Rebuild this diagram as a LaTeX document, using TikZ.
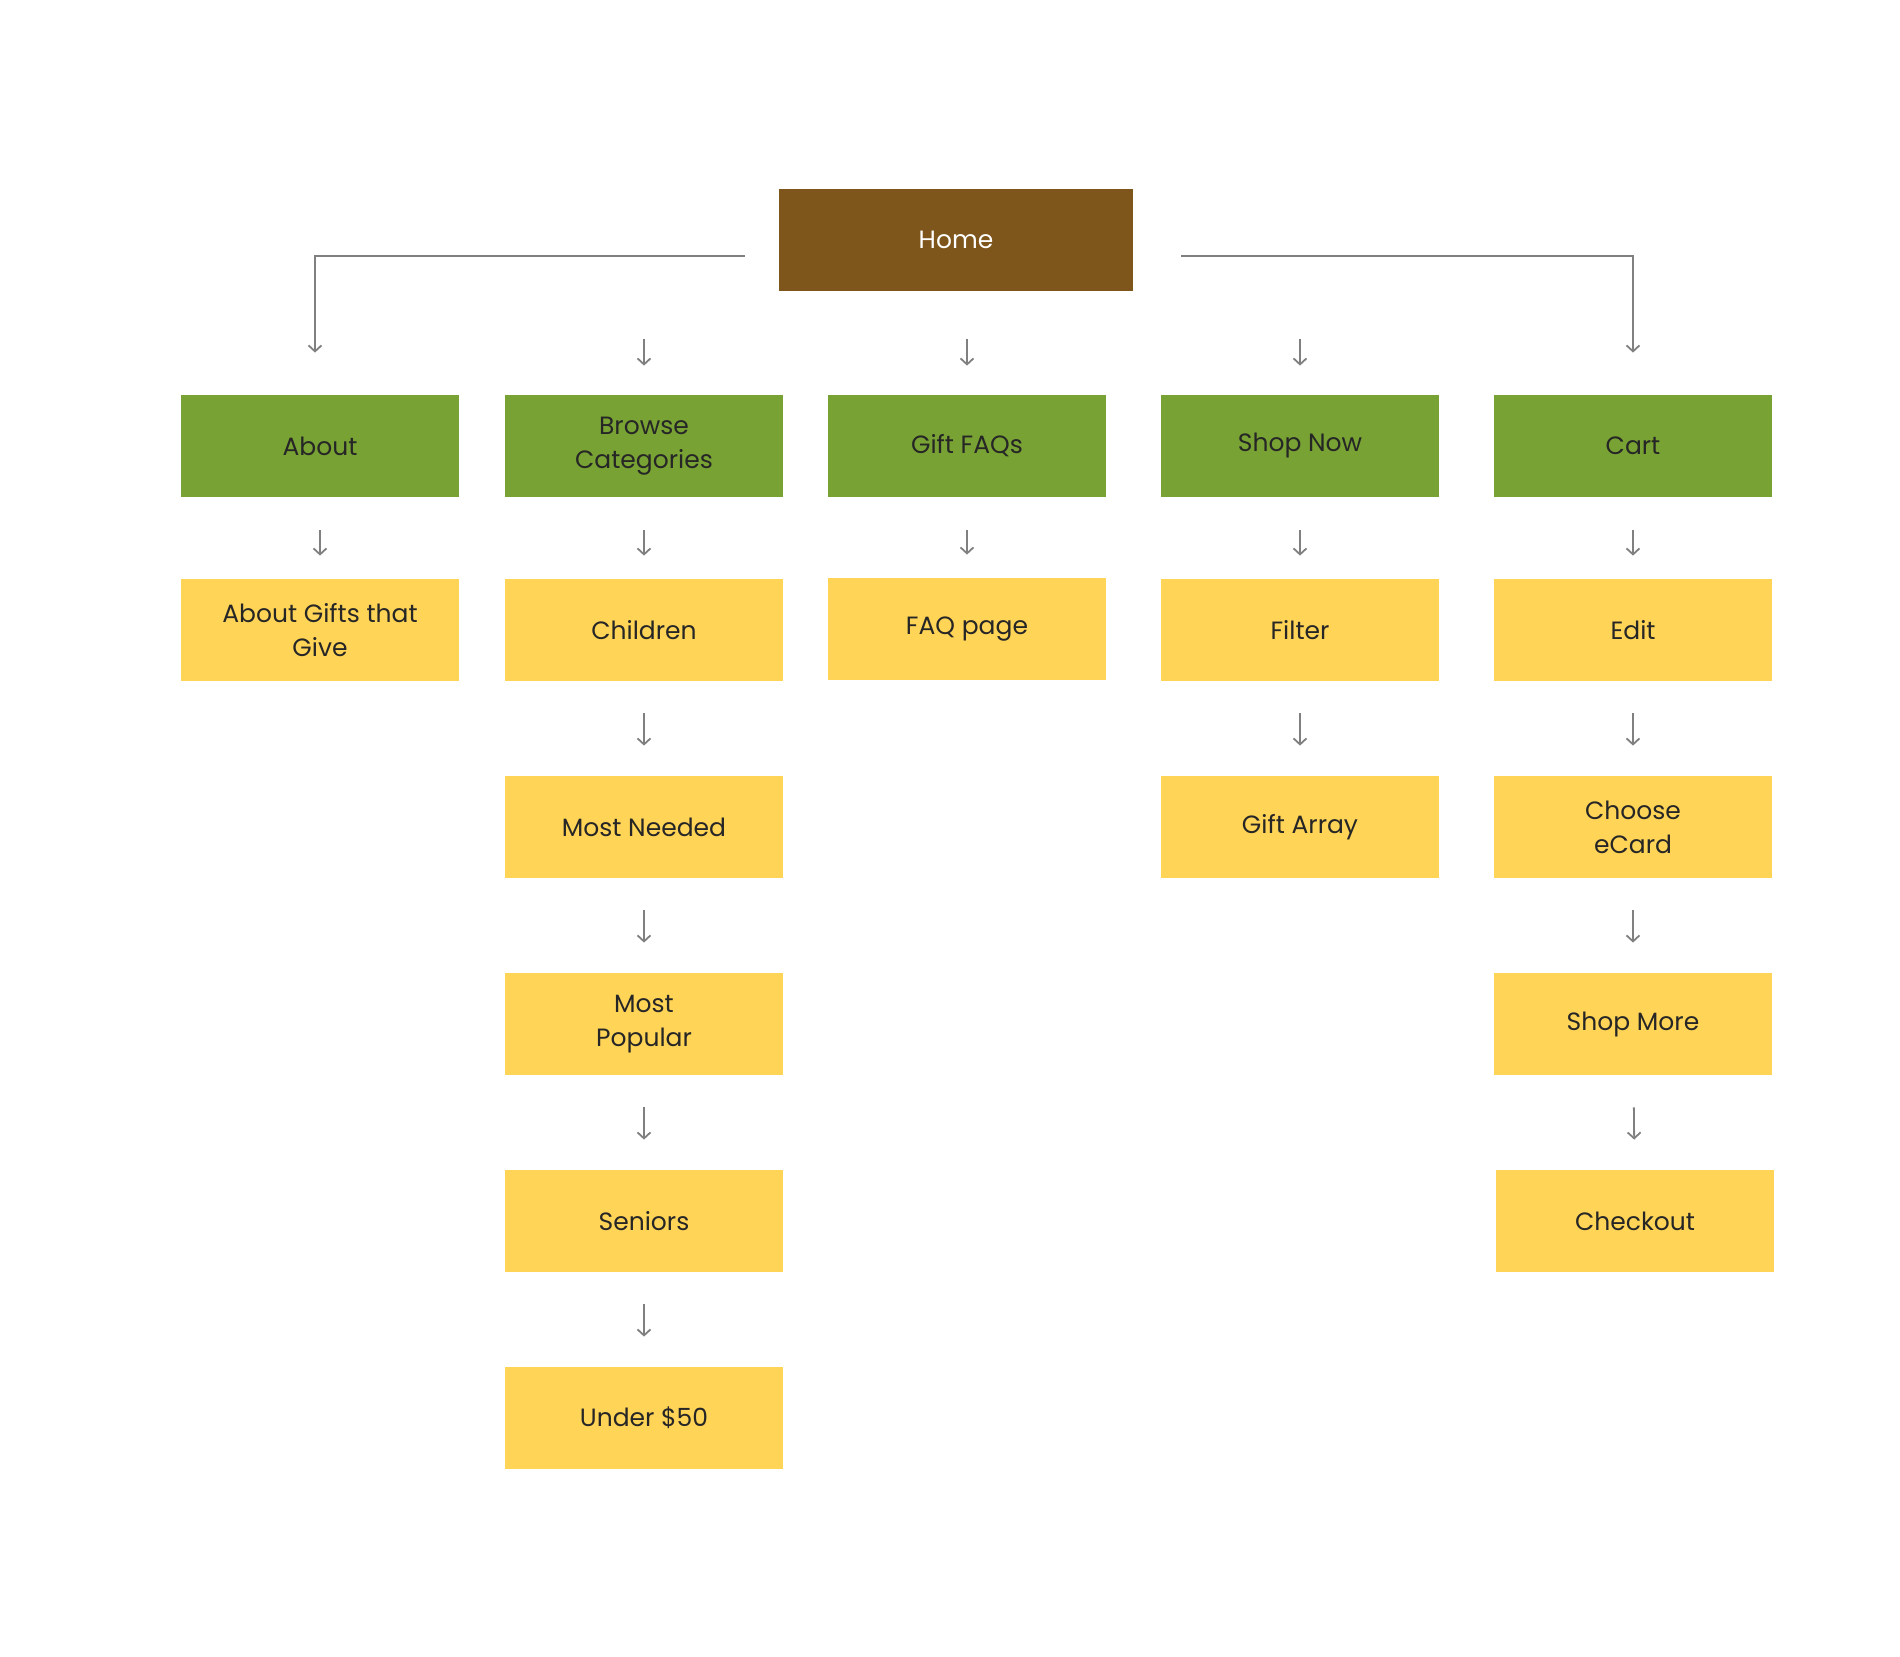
\documentclass[tikz,border=0pt]{standalone}
\usepackage{fontspec}
\setmainfont{Poppins}
\usetikzlibrary{arrows.meta}

\definecolor{homebrown}{HTML}{7E561C}
\definecolor{pagegreen}{HTML}{78A233}
\definecolor{subyellow}{HTML}{FFD457}
\definecolor{linkgray}{HTML}{808080}

\tikzset{
  page/.style={minimum width=139pt, minimum height=51pt, align=center, inner sep=2pt,
    font=\fontsize{12.5}{17}\selectfont, text=black!85},
  top/.style={page, fill=pagegreen},
  sub/.style={page, fill=subyellow},
  link/.style={draw=linkgray, line width=0.9pt, -{Straight Barb[length=3pt,width=6.5pt]}},
  short/.style={link, shorten <=16pt, shorten >=15pt}
}

\begin{document}
\begin{tikzpicture}[x=0.5pt, y=-0.5pt, node distance=98.5pt]
    \useasboundingbox (0,0) rectangle (1900,1657);

    \node[page, fill=homebrown, text=white, minimum width=177pt] (home) at (956,240) {Home};

    % main pages
    \node[top] (about)  at (320,446)  {About};
    \node[top] (browse) at (644,446)  {Browse\\Categories};
    \node[top] (faqs)   at (967,446)  {Gift FAQs};
    \node[top] (shop)   at (1300,446) {Shop Now};
    \node[top] (cart)   at (1633,446) {Cart};

    % about
    \node[sub] (aboutgifts) at (320,630) {About Gifts that\\Give};

    % browse categories
    \node[sub] (children) at (644,630) {Children};
    \node[sub] (needed)   [below of=children] {Most Needed};
    \node[sub] (popular)  [below of=needed]   {Most\\Popular};
    \node[sub] (seniors)  [below of=popular]  {Seniors};
    \node[sub] (under)    [below of=seniors]  {Under \$50};

    % faqs
    \node[sub] (faqpage) at (967,629) {FAQ page};

    % shop now
    \node[sub] (filter) at (1300,630) {Filter};
    \node[sub] (array)  [below of=filter] {Gift Array};

    % cart
    \node[sub] (edit)     at (1633,630) {Edit};
    \node[sub] (ecard)    [below of=edit]  {Choose\\eCard};
    \node[sub] (shopmore) [below of=ecard] {Shop More};
    \node[sub] (checkout) [below of=shopmore, xshift=1pt] {Checkout};

    % links from home
    \draw[link, shorten <=17pt, shorten >=21pt] ([yshift=-8pt]home.west) -| ([xshift=-2.5pt]about.north);
    \draw[link, shorten <=24pt, shorten >=21pt] ([yshift=-8pt]home.east) -| (cart.north);
    \foreach \p in {browse, faqs, shop}
        \draw[link, shorten <=24pt, shorten >=14.5pt] (home.south -| \p) -- (\p);

    % links down the columns
    \foreach \a/\b in {about/aboutgifts, browse/children, faqs/faqpage, shop/filter, cart/edit}
        \draw[link, shorten <=16.5pt, shorten >=11.5pt] (\a) -- (\b);
    \foreach \a/\b in {children/needed, needed/popular, popular/seniors, seniors/under,
                       filter/array, edit/ecard, ecard/shopmore, shopmore/checkout}
        \draw[short] (\a) -- (\b);
\end{tikzpicture}
\end{document}
